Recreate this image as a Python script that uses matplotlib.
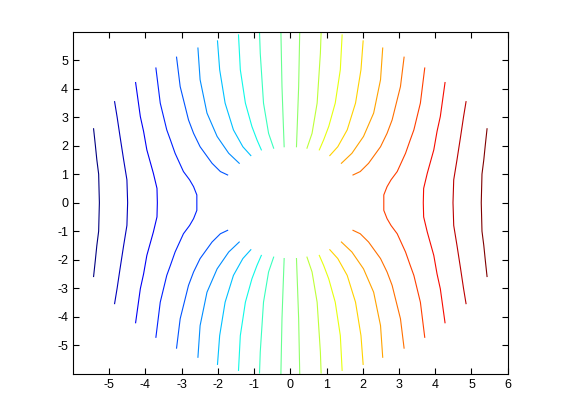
import matplotlib
matplotlib.use("Agg")
import matplotlib.pyplot as plt
from matplotlib import cm

plt.rcParams['axes.unicode_minus'] = False

# upper halves (y >= 0) of the left-hand contour lines;
# the chart is mirror symmetric in x and y, right-hand lines are the mirror images
# lines 1-4 run through y = 0 and are closed below by mirroring in y
full_x = [
    [-5.27, -5.29, -5.34, -5.38, -5.43],
    [-4.49, -4.51, -4.60, -4.70, -4.78, -4.85],
    [-3.67, -3.68, -3.78, -3.96, -4.05, -4.14, -4.27],
    [-2.58, -2.58, -2.67, -2.78, -2.95, -3.18, -3.31, -3.41, -3.59, -3.71],
]
full_y = [
    [0.00, 1.00, 1.50, 2.00, 2.59],
    [0.00, 0.80, 1.50, 2.32, 3.00, 3.54],
    [0.00, 0.50, 1.03, 1.85, 2.50, 3.02, 4.21],
    [0.00, 0.27, 0.56, 0.80, 1.09, 1.73, 2.20, 2.55, 3.49, 4.72],
]
# lines 5-10 stop at the hole round the centre
split_x = [
    [-1.73, -1.93, -2.16, -2.49, -2.67, -2.81, -3.04, -3.14],
    [-1.41, -1.70, -2.02, -2.30, -2.49, -2.55],
    [-1.09, -1.31, -1.57, -1.80, -1.95, -2.01],
    [-0.80, -0.92, -1.06, -1.24, -1.38, -1.43],
    [-0.46, -0.60, -0.74, -0.83, -0.85],
    [-0.17, -0.20, -0.23, -0.26],
]
split_y = [
    [0.97, 1.09, 1.38, 1.96, 2.43, 2.90, 4.07, 5.10],
    [1.38, 1.73, 2.32, 3.14, 4.31, 5.42],
    [1.65, 1.96, 2.55, 3.49, 4.66, 5.67],
    [1.85, 2.20, 2.67, 3.49, 4.66, 5.88],
    [1.91, 2.43, 3.49, 5.24, 5.97],
    [1.96, 3.00, 4.07, 6.00],
]

fig = plt.figure(figsize=(5.61, 4.2), dpi=100)
ax = fig.add_axes([0.13, 0.11, 0.775, 0.815])

n_levels = 2 * (len(full_x) + len(split_x))
colors = [cm.jet(i / (n_levels - 1)) for i in range(n_levels)]

lines = []
for xs, ys in zip(full_x, full_y):
    lx = xs[::-1] + xs[1:]
    ly = ys[::-1] + [-v for v in ys[1:]]
    lines.append([(lx, ly)])
for xs, ys in zip(split_x, split_y):
    lines.append([(xs, ys), (xs, [-v for v in ys])])

for i, segs in enumerate(lines):
    for lx, ly in segs:
        ax.plot(lx, ly, color=colors[i], lw=0.8)
        ax.plot([-v for v in lx], ly, color=colors[n_levels - 1 - i], lw=0.8)

ax.set_xlim(-6, 6)
ax.set_ylim(-6, 6)
ax.set_xticks(range(-5, 7))
ax.set_yticks(range(-5, 6))
ax.tick_params(direction='in', top=True, right=True, length=4, labelsize=9)
for lab in ax.get_xticklabels() + ax.get_yticklabels():
    lab.set_family('Liberation Sans')
for s in ax.spines.values():
    s.set_linewidth(0.8)

fig.savefig("out.png", dpi=100)
